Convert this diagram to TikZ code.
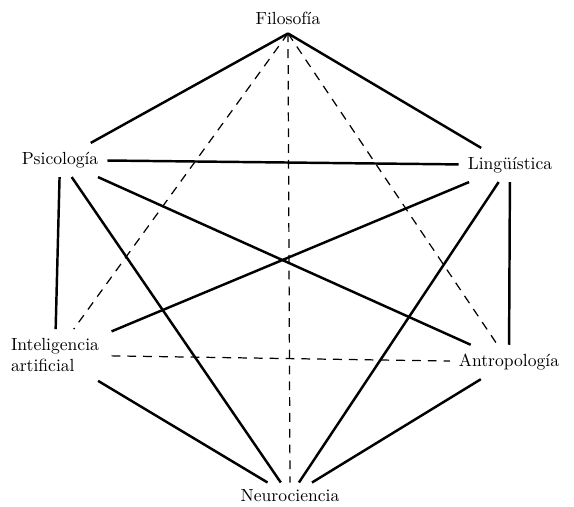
\documentclass[tikz,border=0pt]{standalone}
\usepackage{tikz}
\usetikzlibrary{positioning, calc}

\begin{document}
\begin{tikzpicture}[
  campo/.style={inner sep=5pt, align=left, font=\normalsize},
  enlace/.style={line width=1.4pt, black},
  debil/.style={line width=0.7pt, black, dash pattern=on 5pt off 4pt},
]
  \useasboundingbox (0,0) rectangle (11.48,10.14);
  \node[campo] (filo) at (5.76,9.78) {Filosof\'{\i}a};
  \node[campo] (psi) at (1.2,6.94) {Psicolog\'{\i}a};
  \node[campo] (ling) at (10.2,6.84) {Ling\"{u}\'{\i}stica};
  \node[campo, inner xsep=7pt] (ia) at (1.1,3.04) {Inteligencia\\artificial};
  \node[campo] (antro) at (10.18,2.9) {Antropolog\'{\i}a};
  \node[campo, inner ysep=4pt] (neuro) at (5.8,0.22) {Neurociencia};
  % solid links
  \draw[enlace] (filo.south) -- (psi); \draw[enlace] (filo.south) -- (ling);
  \draw[enlace] (psi) -- (ling); \draw[enlace] (psi) -- (ia);
  \draw[enlace] (psi) -- (antro); \draw[enlace] (psi) -- (neuro);
  \draw[enlace] (ling) -- (ia); \draw[enlace] (ling) -- (antro);
  \draw[enlace] (ling) -- (neuro);
  \draw[enlace] (ia) -- (neuro); \draw[enlace] (antro) -- (neuro);
  % dashed links
  \draw[debil] (filo.south) -- (ia); \draw[debil] (filo.south) -- (neuro.north);
  \draw[debil] (filo.south) -- (antro); \draw[debil] (ia) -- (antro);
\end{tikzpicture}
\end{document}
